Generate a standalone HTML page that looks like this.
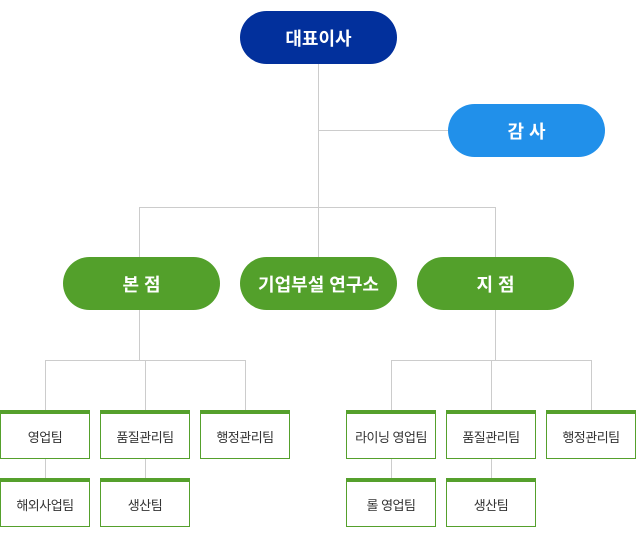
<!DOCTYPE html>
<html><head><meta charset="utf-8"><style>
body{margin:0;width:636px;height:540px;background:#fff;position:relative;overflow:hidden;font-family:"Liberation Sans","Noto Sans CJK KR",sans-serif}
.l{position:absolute;background:#cccccc}
.p{position:absolute;height:53px;width:157px;border-radius:27px;color:#fff;font-weight:bold;font-size:18px;display:flex;align-items:center;justify-content:center}
.b{position:absolute;width:88px;height:44px;border:1px solid #55a02c;border-top:4px solid #55a02c;background:#fff;color:#333;font-size:13px;display:flex;align-items:center;justify-content:center;letter-spacing:-0.5px}
</style></head><body>
<div class="l" style="left:318px;top:63px;width:1px;height:194px"></div>
<div class="l" style="left:318px;top:130px;width:130px;height:1px"></div>
<div class="l" style="left:139px;top:207px;width:357px;height:1px"></div>
<div class="l" style="left:139px;top:207px;width:1px;height:50px"></div>
<div class="l" style="left:495px;top:207px;width:1px;height:50px"></div>
<div class="l" style="left:139px;top:310px;width:1px;height:50px"></div>
<div class="l" style="left:45px;top:360px;width:201px;height:1px"></div>
<div class="l" style="left:45px;top:360px;width:1px;height:50px"></div>
<div class="l" style="left:145px;top:360px;width:1px;height:50px"></div>
<div class="l" style="left:245px;top:360px;width:1px;height:50px"></div>
<div class="l" style="left:495px;top:310px;width:1px;height:50px"></div>
<div class="l" style="left:391px;top:360px;width:201px;height:1px"></div>
<div class="l" style="left:391px;top:360px;width:1px;height:50px"></div>
<div class="l" style="left:491px;top:360px;width:1px;height:50px"></div>
<div class="l" style="left:591px;top:360px;width:1px;height:50px"></div>
<div class="l" style="left:45px;top:458px;width:1px;height:20px"></div>
<div class="l" style="left:145px;top:458px;width:1px;height:20px"></div>
<div class="l" style="left:391px;top:458px;width:1px;height:20px"></div>
<div class="l" style="left:491px;top:458px;width:1px;height:20px"></div>

<div class="p" style="left:240px;top:11px;background:#02309c">대표이사</div>
<div class="p" style="left:448px;top:104px;background:#2190ea">감 사</div>
<div class="p" style="left:63px;top:257px;background:#53a02b">본 점</div>
<div class="p" style="left:240px;top:257px;background:#53a02b">기업부설 연구소</div>
<div class="p" style="left:417px;top:257px;background:#53a02b">지 점</div>

<div class="b" style="left:0;top:410px">영업팀</div>
<div class="b" style="left:100px;top:410px">품질관리팀</div>
<div class="b" style="left:200px;top:410px">행정관리팀</div>
<div class="b" style="left:0;top:478px">해외사업팀</div>
<div class="b" style="left:100px;top:478px">생산팀</div>
<div class="b" style="left:346px;top:410px">라이닝 영업팀</div>
<div class="b" style="left:446px;top:410px">품질관리팀</div>
<div class="b" style="left:546px;top:410px">행정관리팀</div>
<div class="b" style="left:346px;top:478px">롤 영업팀</div>
<div class="b" style="left:446px;top:478px">생산팀</div>
</body></html>
